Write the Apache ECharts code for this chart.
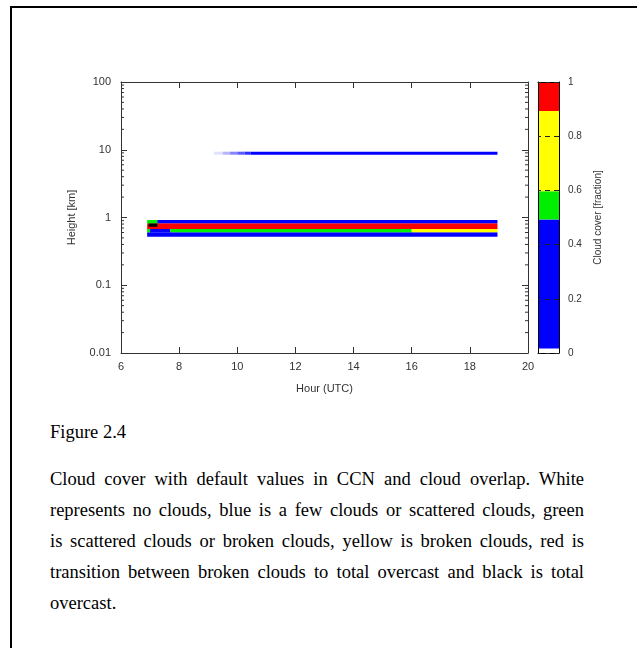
<!DOCTYPE html>
<html><head><meta charset="utf-8">
<script src="https://cdn.jsdelivr.net/npm/echarts@6/dist/echarts.min.js"></script>
<style>
html,body{margin:0;padding:0;background:#fff;overflow:hidden;width:637px;height:648px;}
#wrap{position:relative;width:637px;height:648px;overflow:hidden;background:#fff;}
#chart{position:absolute;left:0;top:0;width:637px;height:400px;}
#lineTop{position:absolute;left:10px;top:6px;width:627px;height:2px;background:#000;}
#lineLeft{position:absolute;left:10px;top:6px;width:2px;height:642px;background:#000;}
.cap{position:absolute;left:50px;width:534px;font-family:"Liberation Serif","Times New Roman",serif;font-size:18.5px;color:#000;}
.ln{height:31px;line-height:31px;text-align:justify;text-align-last:justify;}
.ln.last{text-align-last:left;}
</style></head>
<body><div id="wrap">
<div id="lineTop"></div>
<div id="lineLeft"></div>
<div id="chart"></div>
<div class="cap" style="top:417px;"><div class="ln last">Figure 2.4</div></div>
<div class="cap" style="top:464px;">
<div class="ln">Cloud cover with default values in CCN and cloud overlap. White</div>
<div class="ln">represents no clouds, blue is a few clouds or scattered clouds, green</div>
<div class="ln">is scattered clouds or broken clouds, yellow is broken clouds, red is</div>
<div class="ln">transition between broken clouds to total overcast and black is total</div>
<div class="ln last">overcast.</div>
</div>
</div>
<script>
// ---- data ----
const hourTicks = [6, 8, 10, 12, 14, 16, 18, 20];
const heightTicks = [0.01, 0.1, 1, 10, 100];
const coverTicks = [0, 0.2, 0.4, 0.6, 0.8, 1];

// cloud layers (hour start, hour end, height bottom [km], height top [km], cloud cover fraction)
const layerStart  = [6.9,   6.9,   7.0,   7.7,   16.0,  6.9,   6.95,  6.9,   7.25,  9.2,   9.5,   9.75,  10.0,  10.25, 10.45];
const layerEnd    = [18.95, 7.0,   7.7,   16.0,  18.95, 18.95, 7.25,  7.25,  18.95, 9.5,   9.75,  10.0,  10.25, 10.45, 18.95];
const layerBottom = [0.521, 0.605, 0.605, 0.605, 0.605, 0.676, 0.73,  0.821, 0.821, 8.45,  8.45,  8.45,  8.45,  8.45,  8.45];
const layerTop    = [0.605, 0.676, 0.676, 0.676, 0.676, 0.821, 0.821, 0.918, 0.918, 9.36,  9.36,  9.36,  9.36,  9.36,  9.36];
const layerCover  = [0.3,   0.55,  0.3,   0.55,  0.75,  0.95,  1.0,   0.55,  0.3,   0.002, 0.005, 0.008, 0.011, 0.014, 0.3];

// colour scale
const colorLevels = [0, 0.017, 0.493, 0.597, 0.893, 0.995, 1];
const colorValues = ['#ffffff', '#0000ff', '#00ee00', '#ffff00', '#ff0000', '#000000'];

const hourMin = hourTicks[0], hourMax = hourTicks[hourTicks.length - 1];

function coverColor(v) {
  if (v < colorLevels[1]) {
    const t = v / colorLevels[1];
    const c = Math.round(255 * (1 - t));
    return 'rgb(' + c + ',' + c + ',255)';
  }
  for (let i = 1; i < colorValues.length; i++) {
    if (v < colorLevels[i + 1]) return colorValues[i];
  }
  return colorValues[colorValues.length - 1];
}

const layerData = layerStart.map((s, i) => [s, layerEnd[i], layerBottom[i], layerTop[i], layerCover[i]]);

// log minor tick positions (2..9 per decade)
const minorVals = [];
for (let d = 0; d < heightTicks.length - 1; d++) {
  for (let m = 2; m <= 9; m++) minorVals.push(m * heightTicks[d]);
}

// colour bar segments (visible part of the scale)
const cbLower = [0, 0.017, 0.493, 0.597, 0.893];
const cbUpper = [0.017, 0.493, 0.597, 0.893, 1];
const cbColor = ['#ffffff', '#0000ff', '#00ee00', '#ffff00', '#ff0000'];

const AX = '#333';
const FONT = 'Liberation Sans, Arial, sans-serif';

function fmtNum(v) { return String(+(+v).toPrecision(6)); }

const chart = echarts.init(document.getElementById('chart'), null, {renderer: 'canvas'});
chart.setOption({
  animation: false,
  backgroundColor: 'transparent',
  grid: [
    {left: 121, top: 82, width: 407, height: 271},
    {left: 538, top: 82, width: 21, height: 271}
  ],
  xAxis: [
    {gridIndex: 0, type: 'value', min: hourMin, max: hourMax, interval: 2, position: 'bottom',
     name: 'Hour (UTC)', nameLocation: 'middle', nameGap: 30,
     nameTextStyle: {fontFamily: FONT, fontSize: 11, color: AX},
     axisLine: {show: true, lineStyle: {color: AX, width: 1}},
     axisTick: {show: true, inside: true, length: 6, lineStyle: {color: AX}},
     axisLabel: {fontFamily: FONT, fontSize: 11, color: AX, margin: 8},
     splitLine: {show: false}},
    {gridIndex: 0, type: 'value', min: hourMin, max: hourMax, interval: 2, position: 'top',
     axisLine: {show: true, lineStyle: {color: AX, width: 1}},
     axisTick: {show: true, inside: true, length: 6, lineStyle: {color: AX}},
     axisLabel: {show: false}, splitLine: {show: false}},
    {gridIndex: 1, type: 'value', min: 0, max: 1, position: 'bottom', z: 10,
     axisLine: {show: true, onZero: false, lineStyle: {color: '#000', width: 1}},
     axisTick: {show: false}, axisLabel: {show: false}, splitLine: {show: false}},
    {gridIndex: 1, type: 'value', min: 0, max: 1, position: 'top', z: 10,
     axisLine: {show: true, onZero: false, lineStyle: {color: '#000', width: 1}},
     axisTick: {show: false}, axisLabel: {show: false}, splitLine: {show: false}}
  ],
  yAxis: [
    {gridIndex: 0, type: 'log', logBase: 10, min: heightTicks[0], max: heightTicks[heightTicks.length - 1],
     splitNumber: 4, position: 'left',
     name: 'Height [km]', nameLocation: 'middle', nameGap: 44, nameRotate: 90,
     nameTextStyle: {fontFamily: FONT, fontSize: 11, color: AX},
     axisLine: {show: true, lineStyle: {color: AX, width: 1}},
     axisTick: {show: true, inside: true, length: 6, lineStyle: {color: AX}},
     axisLabel: {fontFamily: FONT, fontSize: 11, color: AX, margin: 10, formatter: fmtNum},
     splitLine: {show: false}},
    {gridIndex: 0, type: 'log', logBase: 10, min: heightTicks[0], max: heightTicks[heightTicks.length - 1],
     splitNumber: 4, position: 'right',
     axisLine: {show: true, lineStyle: {color: AX, width: 1}},
     axisTick: {show: true, inside: true, length: 6, lineStyle: {color: AX}},
     axisLabel: {show: false}, splitLine: {show: false}},
    {gridIndex: 1, type: 'value', min: 0, max: 1, position: 'left', z: 10,
     axisLine: {show: true, onZero: false, lineStyle: {color: '#000', width: 1}},
     axisTick: {show: false}, axisLabel: {show: false}, splitLine: {show: false}},
    {gridIndex: 1, type: 'value', min: 0, max: 1, interval: 0.2, position: 'right', z: 10,
     name: 'Cloud cover [fraction]', nameLocation: 'middle', nameGap: 34, nameRotate: 90,
     nameTextStyle: {fontFamily: FONT, fontSize: 10, color: AX},
     axisLine: {show: true, onZero: false, lineStyle: {color: '#000', width: 1}},
     axisTick: {show: true, inside: true, length: 21, lineStyle: {color: '#222', type: [5, 4]}},
     axisLabel: {fontFamily: FONT, fontSize: 10, color: AX, margin: 9, formatter: fmtNum},
     splitLine: {show: false}}
  ],
  series: [
    {type: 'custom', name: 'cloud', xAxisIndex: 0, yAxisIndex: 0, data: layerData,
     encode: {x: [0, 1], y: [2, 3]}, clip: true, silent: true,
     renderItem: function (params, api) {
       const a = api.coord([api.value(0), api.value(3)]);
       const b = api.coord([api.value(1), api.value(2)]);
       return {type: 'rect',
         shape: {x: a[0], y: a[1], width: b[0] - a[0], height: b[1] - a[1]},
         style: {fill: coverColor(api.value(4))}};
     }},
    {type: 'custom', name: 'minorTicks', xAxisIndex: 0, yAxisIndex: 0,
     data: minorVals.map(v => [hourMin, v]), encode: {x: 0, y: 1}, silent: true, z: 5,
     renderItem: function (params, api) {
       const v = api.value(1);
       const l = api.coord([hourMin, v]);
       const r = api.coord([hourMax, v]);
       return {type: 'group', children: [
         {type: 'line', shape: {x1: l[0], y1: l[1], x2: l[0] + 3, y2: l[1]}, style: {stroke: AX, lineWidth: 1}},
         {type: 'line', shape: {x1: r[0] - 3, y1: r[1], x2: r[0], y2: r[1]}, style: {stroke: AX, lineWidth: 1}}
       ]};
     }},
    {type: 'custom', name: 'colorbar', xAxisIndex: 2, yAxisIndex: 2,
     data: cbLower.map((lo, i) => [0, 1, lo, cbUpper[i], i]), encode: {x: [0, 1], y: [2, 3]}, silent: true,
     renderItem: function (params, api) {
       const a = api.coord([api.value(0), api.value(3)]);
       const b = api.coord([api.value(1), api.value(2)]);
       return {type: 'rect',
         shape: {x: a[0], y: a[1], width: b[0] - a[0], height: b[1] - a[1]},
         style: {fill: cbColor[api.value(4)]}};
     }}
  ]
});
</script>
</body></html>
